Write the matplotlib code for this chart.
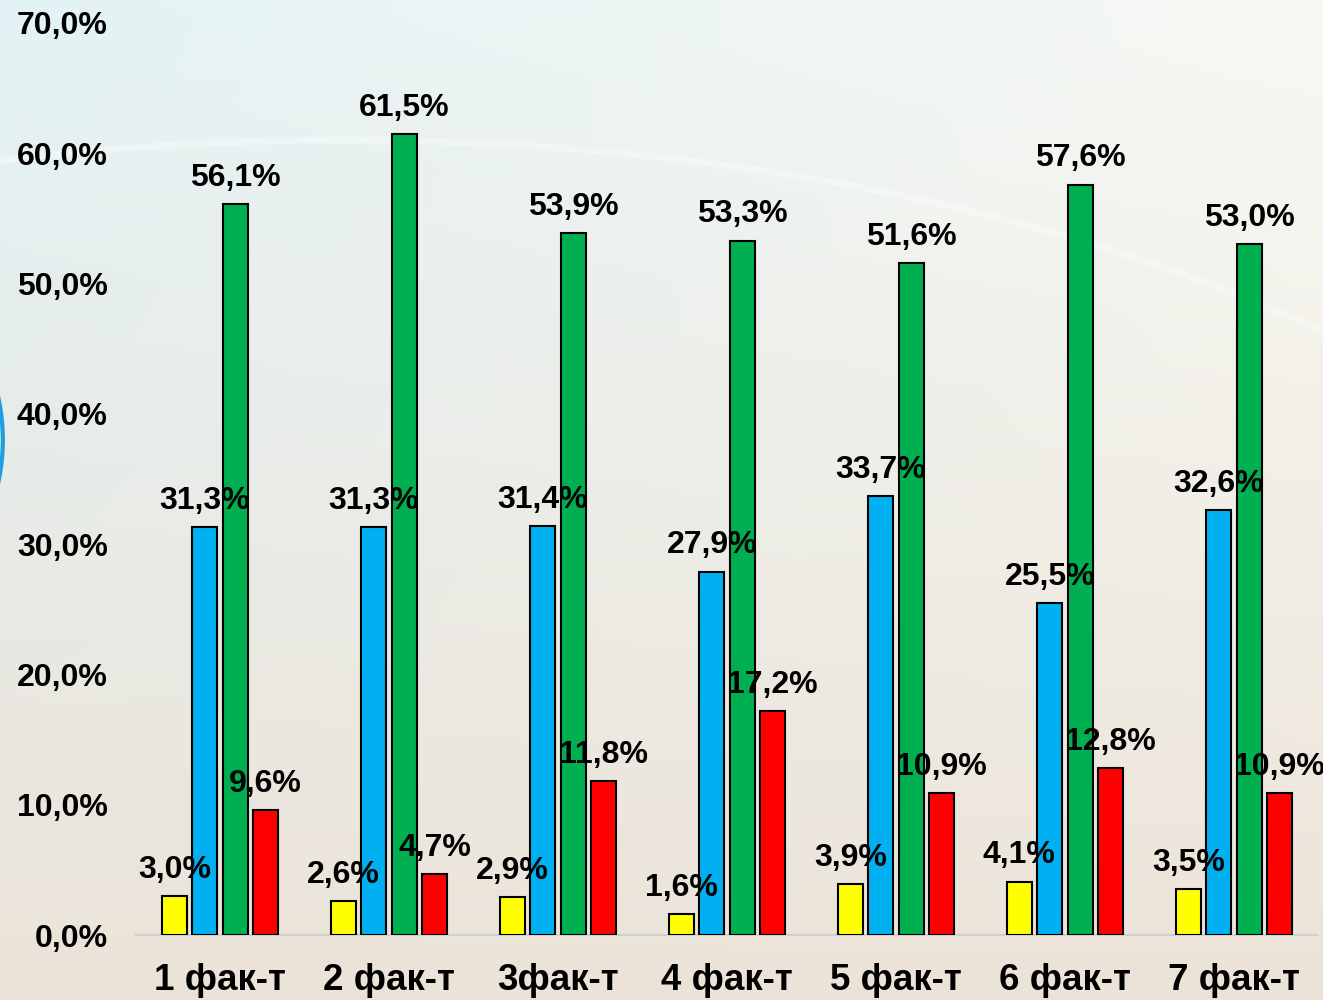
import matplotlib.pyplot as plt
import numpy as np
from matplotlib.patches import Ellipse

categories = ["1 фак-т", "2 фак-т", "3фак-т", "4 фак-т", "5 фак-т", "6 фак-т", "7 фак-т"]
yellow_vals = [3.0, 2.6, 2.9, 1.6, 3.9, 4.1, 3.5]
blue_vals = [31.3, 31.3, 31.4, 27.9, 33.7, 25.5, 32.6]
green_vals = [56.1, 61.5, 53.9, 53.3, 51.6, 57.6, 53.0]
red_vals = [9.6, 4.7, 11.8, 17.2, 10.9, 12.8, 10.9]
y_ticks = [0, 10, 20, 30, 40, 50, 60, 70]

plt.rcParams['font.family'] = ['Liberation Sans', 'DejaVu Sans']

fig = plt.figure(figsize=(13.23, 10), dpi=100)

# background gradient
bg = fig.add_axes([0, 0, 1, 1], zorder=-10)
h, w = 200, 265
yy = np.linspace(0, 1, h)[:, None]
xx = np.linspace(0, 1, w)[None, :]
top_left = np.array([0.89, 0.95, 0.96])
top_right = np.array([0.97, 0.975, 0.955])
bottom = np.array([0.925, 0.89, 0.845])
top = top_left * (1 - xx[..., None]) + top_right * xx[..., None]
t = (yy ** 1.1)[..., None]
img = top * (1 - t) + bottom * t
bg.imshow(img, extent=[0, 1, 0, 1], aspect='auto', origin='upper')
bg.add_patch(Ellipse((0.26, 0.2), 2.1, 1.32, fill=False, ec='white', lw=5, alpha=0.35))
bg.add_patch(Ellipse((-0.149, 0.56), 0.3023, 0.4, fill=False, ec='#1aa0e0', lw=3))
bg.set_xlim(0, 1)
bg.set_ylim(0, 1)
bg.axis('off')

ax = fig.add_axes([0.1025, 0.065, 0.894, 0.912])
ax.patch.set_alpha(0)

x = np.arange(len(categories))
width = 0.148
step = 0.18
series = [(yellow_vals, '#ffff00'), (blue_vals, '#00b0f0'),
          (green_vals, '#00b050'), (red_vals, '#ff0000')]
for i, (vals, col) in enumerate(series):
    pos = x + (i - 1.5) * step
    ax.bar(pos, vals, width, color=col, edgecolor='black', linewidth=1.5, zorder=3)
    for p, v in zip(pos, vals):
        ax.annotate(f"{v:.1f}%".replace('.', ','), (p, v), xytext=(0, 8),
                    textcoords='offset points', ha='center', va='bottom',
                    fontsize=23, fontweight='bold', zorder=4)

ax.set_xlim(-0.5, len(categories) - 0.5)
ax.set_ylim(0, 70)
ax.set_yticks(y_ticks)
ax.set_yticklabels([f"{v:.1f}%".replace('.', ',') for v in y_ticks],
                   fontsize=23, fontweight='bold')
ax.set_xticks(x)
ax.set_xticklabels(categories, fontsize=26.5, fontweight='bold')
ax.tick_params(axis='y', length=0, pad=20)
ax.tick_params(axis='x', length=0, pad=20)
for s in ['top', 'right', 'left']:
    ax.spines[s].set_visible(False)
ax.spines['bottom'].set_color('#d0d0d0')
ax.spines['bottom'].set_linewidth(1.5)

fig.savefig('out.png', dpi=100)
